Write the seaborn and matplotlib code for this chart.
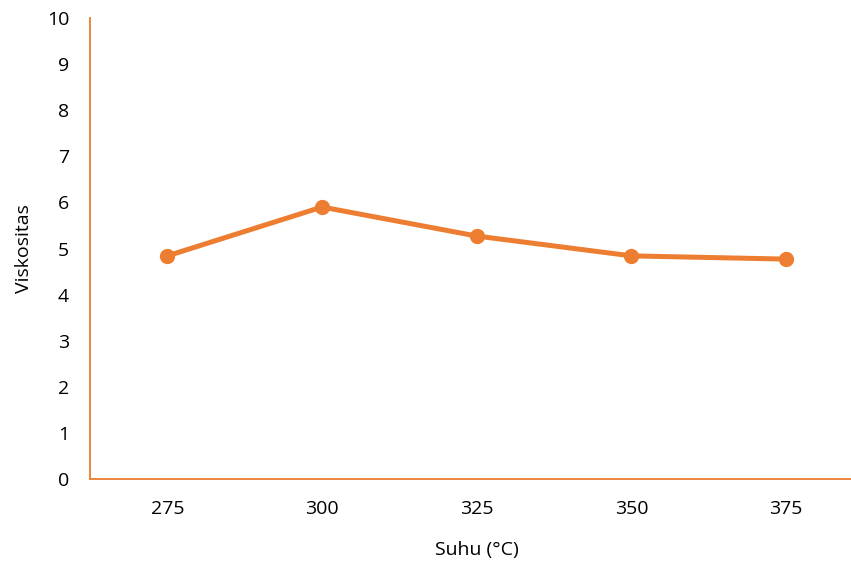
import pandas as pd
import matplotlib.pyplot as plt
import seaborn as sns

suhu = ['275', '300', '325', '350', '375']
viskositas = [4.84, 5.90, 5.27, 4.84, 4.77]

sns.set_theme(style="white")
plt.rcParams['font.family'] = ['Open Sans', 'DejaVu Sans']

orange = '#ED7D31'
df = pd.DataFrame({'Suhu': suhu, 'Viskositas': viskositas})

fig = plt.figure(figsize=(8.51, 5.63), dpi=100)
ax = fig.add_axes([90 / 851, 84 / 563, 773.5 / 851, 461 / 563])

sns.lineplot(data=df, x='Suhu', y='Viskositas', sort=False, ax=ax,
             color=orange, linewidth=3.6, marker='o', markersize=11,
             markeredgewidth=0, markerfacecolor=orange)

ax.set_xlim(-0.5, 4.5)
ax.set_ylim(0, 10)
ax.set_yticks(range(0, 11))
ax.tick_params(axis='both', length=0, labelsize=14, colors='black')
ax.tick_params(axis='y', pad=15)
ax.tick_params(axis='x', pad=15)

for side in ['top', 'right']:
    ax.spines[side].set_visible(False)
for side in ['left', 'bottom']:
    ax.spines[side].set_color(orange)
    ax.spines[side].set_linewidth(1.3)

ax.set_xlabel('Suhu (°C)', fontsize=14, color='black', labelpad=17)
ax.set_ylabel('Viskositas', fontsize=14, color='black', labelpad=10)

fig.savefig('out.png', dpi=100)
